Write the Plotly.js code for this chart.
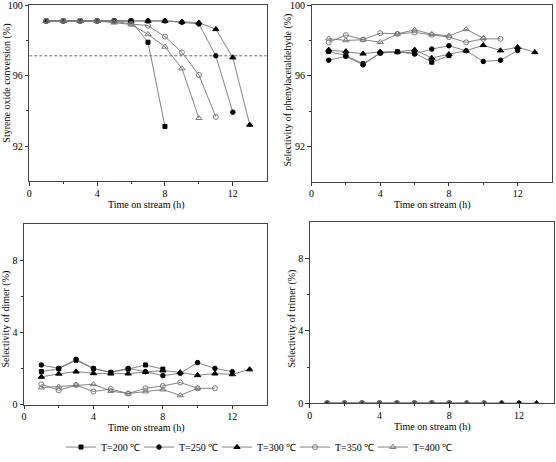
<!DOCTYPE html>
<html>
<head>
<meta charset="utf-8">
<script src="https://cdn.plot.ly/plotly-3.0.1.min.js"></script>
<style>html,body{margin:0;padding:0;background:#fff;}#chart{width:556px;height:462px;}</style>
</head>
<body>
<div id="chart"></div>
<script>
// ---- data ----
var seriesNames = ["T=200 \u2103", "T=250 \u2103", "T=300 \u2103", "T=350 \u2103", "T=400 \u2103"];
var time200 = [1,2,3,4,5,6,7,8];
var time250 = [1,2,3,4,5,6,7,8,9,10,11,12];
var time300 = [1,2,3,4,5,6,7,8,9,10,11,12,13];
var time350 = [1,2,3,4,5,6,7,8,9,10,11];
var time400 = [1,2,3,4,5,6,7,8,9,10];

var conv200 = [99.1,99.1,99.1,99.1,99.1,99.1,97.89,93.11];
var conv250 = [99.1,99.1,99.1,99.1,99.1,99.1,99.1,99.1,99.02,98.93,97.12,93.92];
var conv300 = [99.1,99.1,99.1,99.1,99.1,99.1,99.1,99.1,99.05,99.0,98.63,97.02,93.2];
var conv350 = [99.1,99.1,99.1,99.1,99.08,98.93,98.83,98.21,97.31,96.03,93.65];
var conv400 = [99.1,99.1,99.1,99.1,99.0,98.9,98.34,97.63,96.4,93.58];
var thresholdX = [0, 14];
var thresholdY = [97.12, 97.12];

var ph200 = [97.38,97.14,96.68,97.29,97.36,97.29,96.77,97.14];
var ph250 = [96.88,97.1,96.62,97.29,97.36,97.23,97.51,97.7,97.42,96.81,96.88,97.43];
var ph300 = [97.47,97.38,97.25,97.36,97.36,97.47,97.01,97.22,97.42,97.73,97.43,97.62,97.33];
var ph350 = [97.89,98.3,98.05,98.41,98.37,98.45,98.32,98.19,97.89,98.09,98.09];
var ph400 = [98.1,98.0,98.04,97.9,98.37,98.6,98.35,98.26,98.63,98.13];

var di200 = [1.84,2.0,2.47,2.0,1.8,1.98,2.21,1.98];
var di250 = [2.21,2.02,2.52,2.02,1.8,2.02,1.84,1.62,1.75,2.34,2.02,1.84];
var di300 = [1.55,1.72,1.84,1.75,1.73,1.73,1.82,1.9,1.8,1.64,1.73,1.69,1.96];
var di350 = [1.14,0.81,1.1,0.74,0.88,0.63,0.92,1.05,1.24,0.92,0.92];
var di400 = [0.96,1.01,1.1,1.14,0.77,0.63,0.74,0.85,0.53,0.92];

var tr200 = [0,0,0,0,0,0,0,0];
var tr250 = [0,0,0,0,0,0,0,0,0,0,0,0];
var tr300 = [0,0,0,0,0,0,0,0,0,0,0,0,0];
var tr350 = [0,0,0,0,0,0,0,0,0,0,0];
var tr400 = [0,0,0,0,0,0,0,0,0,0];

var xTitle = "Time on stream (h)";
var yTitles = ["Styrene oxide conversion (%)", "Selectivity of phenylacetaldehyde (%)",
               "Selectivity of dimer (%)", "Selectivity of trimer (%)"];

// ---- styles ----
var lineCol = "#747474";
var styles = [
  {symbol: "square", size: 4, color: "#000", lc: "#000"},
  {symbol: "circle", size: 4.5, color: "#000", lc: "#000"},
  {symbol: "triangle-up", size: 5.5, color: "#000", lc: "#000"},
  {symbol: "circle-open", size: 5, color: "#777", lc: "#777"},
  {symbol: "triangle-up-open", size: 5.5, color: "#777", lc: "#777"}
];
var legendIds = ["legend", "legend2", "legend3", "legend4", "legend5"];
var legendLeftPx = [61, 139, 217, 295, 373];
var times = [time200, time250, time300, time350, time400];
var panels = [
  {ys: [conv200, conv250, conv300, conv350, conv400], xa: "x", ya: "y"},
  {ys: [ph200, ph250, ph300, ph350, ph400], xa: "x2", ya: "y2"},
  {ys: [di200, di250, di300, di350, di400], xa: "x3", ya: "y3"},
  {ys: [tr200, tr250, tr300, tr350, tr400], xa: "x4", ya: "y4"}
];

var traces = [];
traces.push({x: thresholdX, y: thresholdY, xaxis: "x", yaxis: "y", mode: "lines",
  line: {color: "#666", width: 1, dash: "3px,2px"}, showlegend: false, hoverinfo: "skip"});
panels.forEach(function(p, pi) {
  p.ys.forEach(function(ys, si) {
    var s = styles[si];
    traces.push({
      x: times[si], y: ys, xaxis: p.xa, yaxis: p.ya,
      mode: "lines+markers", name: seriesNames[si],
      legend: legendIds[si], legendgroup: "g" + si, showlegend: pi === 0,
      line: {color: lineCol, width: 0.9},
      marker: {symbol: s.symbol, size: s.size, color: s.color, line: {color: s.lc, width: 1}}
    });
  });
});

var font = {family: "Liberation Serif, Times New Roman, serif", size: 10, color: "#000"};
function xax(domain, anchor) {
  return {domain: domain, anchor: anchor, range: [0, 14], tickvals: [0,4,8,12], ticktext: ["0","4","8","12"],
    ticks: "outside", ticklen: 3.5, tickwidth: 1, tickcolor: "#333", ticklabeloverflow: "allow",
    ticklabelstandoff: -1,
    minor: {tickvals: [2,6,10], ticks: "outside", ticklen: 2, tickcolor: "#333"},
    showline: true, linecolor: "#444", linewidth: 1, mirror: true, showgrid: false, zeroline: false,
    tickfont: font};
}
function yax(domain, anchor, range, tv, mv) {
  return {domain: domain, anchor: anchor, range: range, tickvals: tv, ticktext: tv.map(String),
    ticks: "outside", ticklen: 3.5, tickwidth: 1, tickcolor: "#333", ticklabeloverflow: "allow",
    minor: {tickvals: mv, ticks: "outside", ticklen: 2, tickcolor: "#333"},
    showline: true, linecolor: "#444", linewidth: 1, mirror: true, showgrid: false, zeroline: false,
    tickfont: font};
}
function ytitle(text, x, y) {
  return {text: text, xref: "paper", yref: "paper", x: x, y: y, xanchor: "center", yanchor: "middle",
    textangle: -90, showarrow: false, font: font};
}
function xtitle(text, x, y) {
  return {text: text, xref: "paper", yref: "paper", x: x, y: y, xanchor: "center", yanchor: "middle",
    showarrow: false, font: font};
}

var layout = {
  width: 556, height: 462, margin: {l: 0, r: 0, t: 0, b: 0},
  paper_bgcolor: "#fff", plot_bgcolor: "#fff", font: font,
  xaxis: xax([0.0527, 0.4797], "y"),
  yaxis: yax([0.606, 0.989], "x", [90, 100], [92, 96, 100], [94, 98]),
  xaxis2: xax([0.5603, 0.9928], "y2"),
  yaxis2: yax([0.6045, 0.989], "x2", [90, 100], [92, 96, 100], [94, 98]),
  xaxis3: xax([0.0432, 0.4802], "y3"),
  yaxis3: yax([0.1197, 0.513], "x3", [0, 10], [0, 4, 8], [2, 6]),
  xaxis4: xax([0.557, 0.9964], "y4"),
  yaxis4: yax([0.1234, 0.5167], "x4", [0, 10], [0, 4, 8], [2, 6]),
  annotations: [
    ytitle(yTitles[0], 7 / 556, 1 - 84 / 462),
    ytitle(yTitles[1], 288 / 556, 1 - 91 / 462),
    ytitle(yTitles[2], 6 / 556, 1 - 321 / 462),
    ytitle(yTitles[3], 292 / 556, 1 - 320 / 462),
    xtitle(xTitle, 146 / 556, 1 - 205.5 / 462),
    xtitle(xTitle, 432 / 556, 1 - 205.5 / 462),
    xtitle(xTitle, 146 / 556, 1 - 429.5 / 462),
    xtitle(xTitle, 432 / 556, 1 - 428.5 / 462)
  ],
  showlegend: true
};
legendIds.forEach(function(id, i) {
  layout[id] = {orientation: "h", x: legendLeftPx[i] / 556, xanchor: "left", y: 1 - 449 / 462,
    yanchor: "middle", font: font, itemwidth: 30, bgcolor: "rgba(0,0,0,0)"};
});

Plotly.newPlot("chart", traces, layout, {staticPlot: true, displayModeBar: false});
</script>
</body>
</html>
